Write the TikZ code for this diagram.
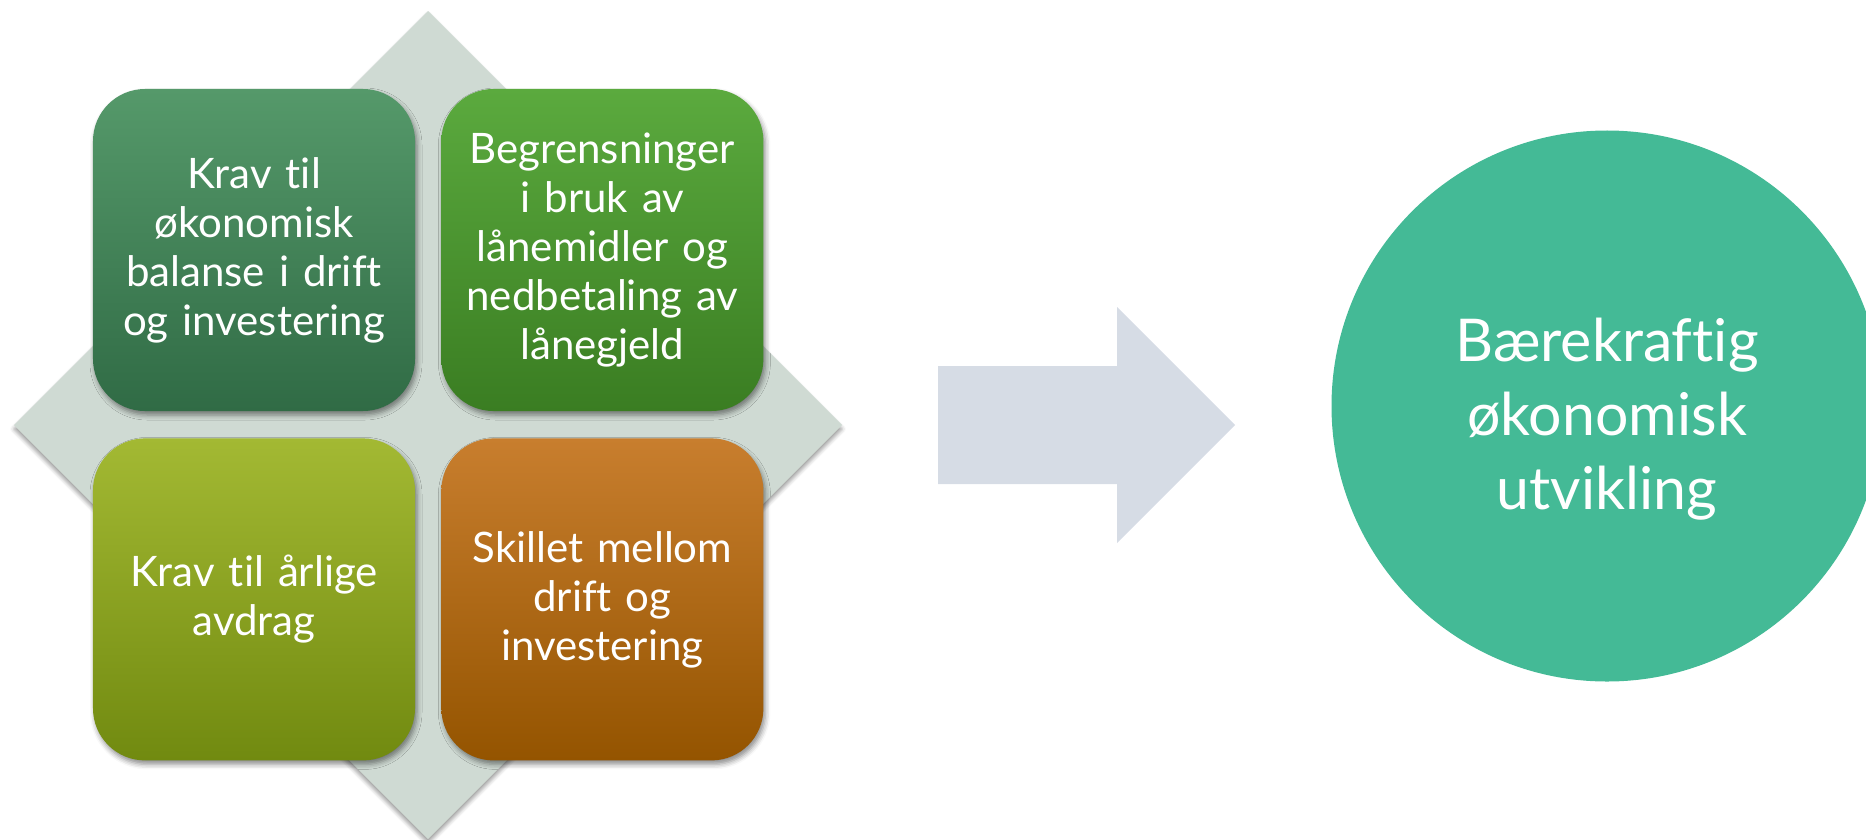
\documentclass[tikz,border=0pt]{standalone}
\usepackage{fontspec}
\setmainfont{Lato}[Ligatures=NoCommon]
\usepackage{xcolor}
\usepackage{tikz}
\usetikzlibrary{positioning,calc,shadows,shadows.blur}

\definecolor{rutebg}{HTML}{CFDAD3}
\definecolor{pilgraa}{HTML}{D6DCE5}
\definecolor{sirkel}{HTML}{44BA96}
\definecolor{mgronnA}{HTML}{55996A}
\definecolor{mgronnB}{HTML}{306B45}
\definecolor{gronnA}{HTML}{5BAA3E}
\definecolor{gronnB}{HTML}{3A7D22}
\definecolor{limeA}{HTML}{A3B933}
\definecolor{limeB}{HTML}{718A10}
\definecolor{bruntA}{HTML}{C87E2E}
\definecolor{bruntB}{HTML}{945400}

\begin{document}
\begin{tikzpicture}[x=1bp,y=-1bp,
	boks/.style={rounded corners=52bp, minimum width=322bp, minimum height=322bp,
		inner sep=0pt, text width=300bp, align=center, text=white,
		font=\fontsize{42bp}{49bp}\selectfont,
		blur shadow={shadow xshift=2bp, shadow yshift=-4bp, shadow opacity=45, shadow blur radius=5bp}},
	skygge/.style={blur shadow={shadow xshift=0bp, shadow yshift=-4bp, shadow opacity=40, shadow blur radius=4bp}}
	]
	\useasboundingbox (0,0) rectangle (1866,840);
	\def\r{414}
	
	% grå rute bak
	\coordinate (midt) at (428,425);
	\fill[rutebg, skygge] ($(midt)+(0,-\r)$) -- ($(midt)+(\r,0)$) -- ($(midt)+(0,\r)$) -- ($(midt)+(-\r,0)$) -- cycle;
	
	% fire krav
	\node[boks, top color=mgronnA, bottom color=mgronnB] (krav) at (254,250)
		{Krav til\\økonomisk\\balanse i drift\\og investering};
	\node[boks, top color=gronnA, bottom color=gronnB, right=26bp of krav] (laan)
		{Begrensninger\\i bruk av\\lånemidler og\\nedbetaling av\\lånegjeld};
	\node[boks, top color=limeA, bottom color=limeB, below=27bp of krav] (avdrag)
		{Krav til årlige\\avdrag};
	\node[boks, top color=bruntA, bottom color=bruntB, right=26bp of avdrag] (skille)
		{Skillet mellom\\drift og\\investering};
	
	% pil
	\fill[pilgraa] (938,366) -- (1117,366) -- (1117,307) -- (1235,425) -- (1117,543) -- (1117,484) -- (938,484) -- cycle;
	
	% mål
	\node[circle, fill=sirkel, minimum size=551bp, inner sep=0pt] (maal) at (1607,406) {};
	\node[text=white, align=center, font=\fontsize{59bp}{74bp}\selectfont] (maaltekst)
		at ([yshift=-13bp]maal.center) {Bærekraftig\\økonomisk\\utvikling};
\end{tikzpicture}
\end{document}
